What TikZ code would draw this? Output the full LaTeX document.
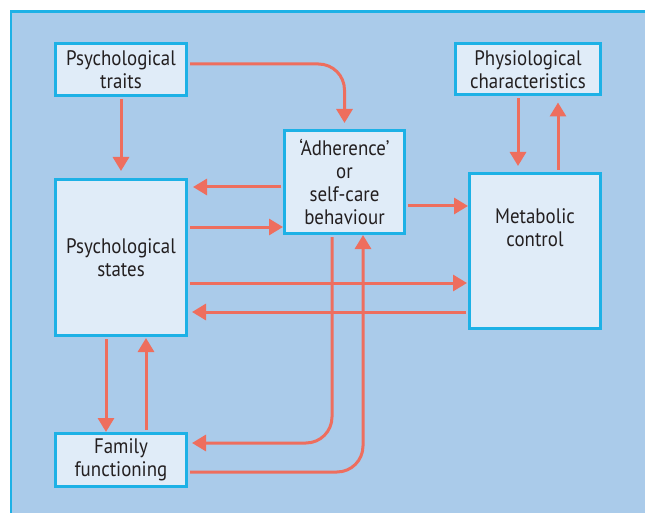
\documentclass[tikz,border=0pt]{standalone}
\usepackage{fontspec}
\setmainfont{PT Sans}[FakeStretch=0.9]
\usetikzlibrary{arrows.meta}

\definecolor{panelblue}{HTML}{AACBEA}
\definecolor{frameline}{HTML}{1DB1E6}
\definecolor{boxfill}{HTML}{E0ECF8}
\definecolor{arrowred}{HTML}{EE6E5E}
\definecolor{inkgray}{HTML}{231F20}

\begin{document}
\begin{tikzpicture}[x=1pt, y=-1pt,
  box/.style={rectangle, draw=frameline, fill=boxfill, line width=3pt, align=center, inner sep=0pt, text=inkgray, font=\fontsize{21}{23}\selectfont},
  arr/.style={draw=arrowred, line width=3pt, -{Triangle[length=14pt,width=16pt]}, shorten <=2pt}]
  \useasboundingbox (0,0) rectangle (645,513);
  \clip (0,0) rectangle (645,513);
  \fill[white] (0,0) rectangle (645,513);
  \filldraw[fill=panelblue, draw=frameline, line width=2.5pt] (11,11.5) rectangle (670,540);

  \node[box, minimum width=131pt, minimum height=52pt] (traits) at (121,69.5) {Psychological\\traits};
  \node[box, minimum width=145pt, minimum height=51pt] (physio) at (528,69.5) {Physiological\\characteristics};
  \node[box, minimum width=120pt, minimum height=103pt] (adh) at (344.5,182) {`Adherence'\\or\\self-care\\behaviour};
  \node[box, minimum width=131pt, minimum height=156pt] (states) at (121,257.5) {Psychological\\states};
  \node[box, minimum width=131pt, minimum height=155pt] (metab) at (535,251) {};
  \node[align=center, text=inkgray, font=\fontsize{21}{23}\selectfont, inner sep=0pt] (metabtext) at (535,228) {Metabolic\\control};
  \node[box, minimum width=131pt, minimum height=53pt] (family) at (121,460) {Family\\functioning};

  \draw[arr, shorten >=7pt] (traits) -- (states);
  \draw[arr, rounded corners=26pt, shorten >=6pt] (traits.east |- 0,64) -| (adh);
  \draw[arr, shorten >=5pt] (adh.west |- 0,187) -- (states.east |- 0,187);
  \draw[arr] (states.east |- 0,227) -- (adh.west |- 0,227);
  \draw[arr] (adh.east |- 0,206) -- (metab.west |- 0,206);
  \draw[arr, shorten >=1pt] (states.east |- 0,283) -- (metab.west |- 0,283);
  \draw[arr, shorten >=4pt] (metab.west |- 0,312) -- (states.east |- 0,312);
  \draw[arr, shorten >=6pt] (physio.south -| 518,0) -- (metab.north -| 518,0);
  \draw[arr, shorten >=6pt] (metab.north -| 558,0) -- (physio.south -| 558,0);
  \draw[arr] (states.south -| 106,0) -- (family.north -| 106,0);
  \draw[arr, shorten >=1pt] (family.north -| 146,0) -- (states.south -| 146,0);
  \draw[arr, rounded corners=26pt, shorten >=4pt] (adh.south -| 332,0) |- (family.east |- 0,443);
  \draw[arr, rounded corners=26pt] (family.east |- 0,472) -| (adh.south -| 363,0);
\end{tikzpicture}
\end{document}
